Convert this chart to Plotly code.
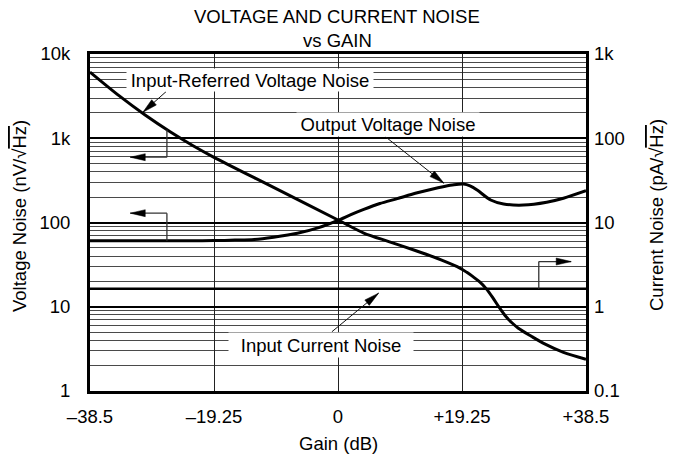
import numpy as np
import plotly.graph_objects as go

# ---------------- data ----------------
gain_in = [-38.5, -34, -30, -26, -22.5, -19.25, -10, 0, 4, 8, 12, 16, 19, 20, 21, 22, 23,
           24, 25, 26, 27, 28, 30, 32, 35, 38.5]
input_referred_noise = [6100, 3200, 1900, 1186, 815, 594, 261, 107, 75, 59, 46.5, 36,
                        28.6, 25.6, 22.6, 19.7, 16.4, 12.9, 9.9, 7.76, 6.46, 5.56, 4.47,
                        3.65, 2.88, 2.38]

gain_out = [-38.5, -30, -22, -19.25, -16, -13, -10, -6.3, -3, 0, 2, 4, 6.5, 9.2, 12,
            14.4, 16.5, 18, 19.5, 20.5, 21.6, 23.7, 25.7, 28.8, 32.4, 35, 38.5]
output_noise = [60.8, 60.8, 60.8, 61, 61.8, 63, 67, 74.5, 87, 106, 124, 143, 168, 192,
                222, 247, 268, 281, 286, 272, 243, 185, 166, 161, 174, 194, 238]

gain_cur = [-38.5, 38.5]
current_noise = [1.63, 1.63]          # pA/rtHz (right axis)

x_ticks = [-38.5, -19.25, 0, 19.25, 38.5]
x_ticktext = ["\u201338.5", "\u201319.25", "0", "+19.25", "+38.5"]
yl_ticks = [1, 10, 100, 1000, 10000]
yl_ticktext = ["1", "10", "100", "1k", "10k"]
yr_ticks = [0.1, 1, 10, 100, 1000]
yr_ticktext = ["0.1", "1", "10", "100", "1k"]

# ---------------- layout geometry ----------------
W, H = 673, 459
ML, MR, MT, MB = 90, 87, 54, 68
PW, PH = W - ML - MR, H - MT - MB
X_RANGE = [-38.5, 38.5]
PX_PER_X = PW / (X_RANGE[1] - X_RANGE[0])
PX_PER_DEC = PH / 4.0

FONT = "Liberation Sans, Arial, Helvetica, sans-serif"
FS = 18.5

fig = go.Figure()
fig.add_trace(go.Scatter(x=gain_in, y=input_referred_noise, mode="lines",
                         line=dict(color="black", width=3, shape="spline", smoothing=0.8),
                         hoverinfo="skip"))
fig.add_trace(go.Scatter(x=gain_out, y=output_noise, mode="lines",
                         line=dict(color="black", width=3, shape="spline", smoothing=0.8),
                         hoverinfo="skip"))
fig.add_trace(go.Scatter(x=gain_cur, y=current_noise, mode="lines", yaxis="y2",
                         line=dict(color="black", width=2.5), hoverinfo="skip"))

shapes = []
annotations = []


def arrow(tail, tip, yref="y", width=1.0, color="#111", head_len=15, head_w=7):
    """Line from tail to tip (data coords) with a narrow filled head at tip."""
    shapes.append(dict(type="line", xref="x", yref=yref, x0=tail[0], y0=tail[1],
                       x1=tip[0], y1=tip[1], line=dict(color=color, width=width),
                       layer="above"))
    dx = (tail[0] - tip[0]) * PX_PER_X
    dy = (np.log10(tail[1]) - np.log10(tip[1])) * PX_PER_DEC
    n = np.hypot(dx, dy)
    ux, uy = dx / n, dy / n
    px, py = -uy, ux
    bx, by = ux * head_len, uy * head_len
    p1 = (bx + px * head_w / 2, by + py * head_w / 2)
    p2 = (bx - px * head_w / 2, by - py * head_w / 2)
    path = "M0,0 L{:.2f},{:.2f} L{:.2f},{:.2f} Z".format(p1[0], p1[1], p2[0], p2[1])
    shapes.append(dict(type="path", xref="x", yref=yref, xsizemode="pixel",
                       ysizemode="pixel", xanchor=tip[0], yanchor=tip[1], path=path,
                       fillcolor="black", line=dict(color="black", width=0.5),
                       layer="above"))


def seg(p0, p1, yref="y", width=1.3, color="#333"):
    shapes.append(dict(type="line", xref="x", yref=yref, x0=p0[0], y0=p0[1],
                       x1=p1[0], y1=p1[1], line=dict(color=color, width=width),
                       layer="above"))


# curve label callouts
arrow((-26.7, 3570), (-30.3, 2030))
arrow((7.4, 1037), (16.45, 293))
arrow((-0.95, 5.05), (6.3, 14.5))
# axis-indicator brackets
seg((-26.56, 1264), (-26.56, 596))
arrow((-26.56, 596), (-32.25, 596), width=1.3, color="#333")
seg((-26.56, 60.8), (-26.56, 129))
arrow((-26.56, 129), (-32.25, 129), width=1.3, color="#333")
seg((31.17, 1.63), (31.17, 3.44), yref="y2")
arrow((31.17, 3.44), (36.2, 3.44), yref="y2", width=1.3, color="#333")


def label(text, x, y, w, h):
    annotations.append(dict(text=text, x=x, y=np.log10(y), xref="x", yref="y",
                            showarrow=False, bgcolor="white", width=w, height=h,
                            borderpad=0, font=dict(size=FS, family=FONT, color="black")))


label("Input-Referred Voltage Noise", -13.7, 4850, 246, 22)
label("Output Voltage Noise", 7.7, 1450, 182, 23)
label("Input Current Noise", -2.7, 3.54, 184, 24)

def paper_text(text, xpx, ypx, angle=0):
    annotations.append(dict(text=text, xref="paper", yref="paper",
                            x=(xpx - ML) / PW, y=(H - MB - ypx) / PH,
                            xanchor="center", yanchor="middle", showarrow=False,
                            textangle=angle,
                            font=dict(size=FS, family=FONT, color="black")))

ovl = "<span style='text-decoration:overline'>Hz</span>"
paper_text("VOLTAGE AND CURRENT NOISE", 337, 16.5)
paper_text("vs GAIN", 337, 41)
paper_text("Gain (dB)", 338, 443)
paper_text("Voltage Noise (nV/\u221a" + ovl + ")", 20, 216, -90)
paper_text("Current Noise (pA/\u221a" + ovl + ")", 657, 215, -90)

fig.update_layout(
    width=W, height=H,
    margin=dict(l=ML, r=MR, t=MT, b=MB, pad=0),
    paper_bgcolor="white", plot_bgcolor="white",
    font=dict(family=FONT, size=FS, color="black"),
    showlegend=False, hovermode=False,
    shapes=shapes, annotations=annotations,
    xaxis=dict(range=X_RANGE, tickvals=x_ticks, ticktext=x_ticktext,
               showgrid=True, gridcolor="#222", gridwidth=1, zeroline=False,
               showline=True, linecolor="black", linewidth=3, mirror=True,
               ticks="", ticklabelstandoff=7, fixedrange=True),
    yaxis=dict(type="log", range=[0, 4], tickvals=yl_ticks, ticktext=yl_ticktext,
               showgrid=True, gridcolor="black", gridwidth=2, zeroline=False,
               showline=True, linecolor="black", linewidth=3, mirror=True,
               ticks="", ticklabelstandoff=13, fixedrange=True,
               minor=dict(dtick="D1", showgrid=True, gridcolor="#4a4a4a",
                          gridwidth=1, ticks="")),
    yaxis2=dict(type="log", range=[-1, 3], overlaying="y", side="right",
                tickvals=yr_ticks, ticktext=yr_ticktext, showgrid=False,
                zeroline=False, showline=False, ticks="", ticklabelstandoff=7,
                fixedrange=True),
)

fig.write_html("out.html", config={"displayModeBar": False},
               post_script="document.body.style.margin='0';document.body.style.overflow='hidden';")
